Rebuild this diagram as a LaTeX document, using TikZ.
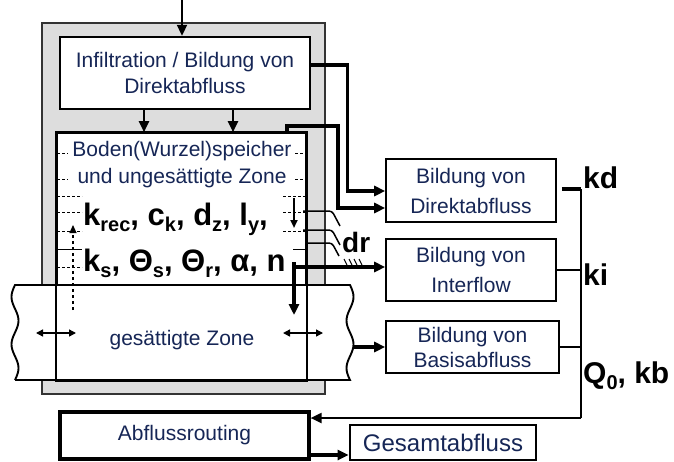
\documentclass[tikz,border=0pt]{standalone}
\usepackage{fontspec}
\setmainfont{Liberation Sans}
\usetikzlibrary{arrows.meta}

\definecolor{navy}{RGB}{22,38,86}
\definecolor{soilgray}{RGB}{221,221,221}

% lowered, smaller index text for the parameter names
\newcommand\lo[1]{\raisebox{-0.22em}{\fontsize{20}{20}\selectfont #1}}

\tikzset{
  box/.style={draw, line width=1.6pt, fill=white, inner sep=0pt, align=center,
              text=navy, font=\fontsize{21}{30}\selectfont},
  arr/.style={-{Triangle[length=11pt,width=10pt]}},
  arrsmall/.style={-{Triangle[length=8pt,width=7pt]}},
  both/.style={{Triangle[length=7pt,width=7pt]}-{Triangle[length=7pt,width=7pt]}},
  flow/.style={line width=3.2pt},
  lnk/.style={line width=2pt},
  tickmark/.style={line width=0.9pt, densely dashed},
  param/.style={anchor=base west, inner sep=0pt, font=\fontsize{31}{31}\selectfont\bfseries},
  coef/.style={anchor=base west, inner sep=0pt, font=\fontsize{30}{30}\selectfont\bfseries},
  bluetext/.style={text=navy, inner sep=0pt, align=center}
}

\begin{document}
\begin{tikzpicture}[x=1pt,y=-1pt]
\useasboundingbox (0,0) rectangle (674,461);

% grey soil column
\filldraw[fill=soilgray, draw=black!80, line width=1.3pt] (42,23) rectangle (325,394);

% infiltration box and unsaturated zone
\node[box, line width=2.4pt, minimum width=250pt, minimum height=72pt,
      font=\fontsize{21}{26}\selectfont] (infil) at (185,73)
      {Infiltration / Bildung von\\Direktabfluss};
\node[box, minimum width=249pt, minimum height=247pt] (zone) at (181.5,256.5) {};

% saturated zone band with wavy cut edges
\filldraw[fill=white, line width=1.9pt]
  (15,285) -- (350,285)
  -- plot[smooth, domain=0:95, samples=41] ({350+3.5*sin(\x*7.5789)},{285+\x})
  -- (15,380)
  -- plot[smooth, domain=95:0, samples=41] ({15-3.5*sin(\x*7.5789)},{285+\x})
  -- cycle;
\draw[line width=1.6pt] (zone.north west) rectangle (zone.south east);

% texts in the soil column
\node[bluetext, font=\fontsize{21}{27}\selectfont] (ztext) at (182,165)
  {Boden(Wurzel)speicher\\und ungesättigte Zone};
\node[param] (p1) at (83,225) {k\lo{rec}, c\lo{k}, d\lo{z}, l\lo{y},};
\node[param] (p2) at (83,271) {k\lo{s}, Θ\lo{s}, Θ\lo{r}, α, n};
\node[bluetext, font=\fontsize{21}{21}\selectfont] (stext) at (182,340) {gesättigte Zone};

% layer marks on both sides of the unsaturated zone
\foreach \y in {153,179} {
  \draw[tickmark] (57,\y) -- (68,\y);
  \draw[tickmark] (295,\y) -- (306,\y);
}
\foreach \y in {196,212,231,267} \draw[tickmark] (57,\y) -- (82,\y);
\draw[line width=0.9pt] (57,249) -- (82,249);
\foreach \y in {196,212,231} \draw[tickmark] (283,\y) -- (306,\y);
\draw[line width=0.9pt] (293,249) -- (306,249);

% drainage lines (dr)
\draw[line width=1.5pt, rounded corners=3pt] (303,211) -- (332,211) -- (340,226);
\draw[line width=1.5pt, rounded corners=3pt] (303,230) -- (332,230) -- (340,245);
\draw[line width=1.5pt, rounded corners=3pt] (305,243) -- (332,243) -- (339,256);
\foreach \x in {344,349,354,359} \draw[line width=1pt] (\x,259) -- (\x+3,265);
\node[coef, font=\fontsize{28}{28}\selectfont\bfseries] (dr) at (342,252) {dr};

% runoff formation boxes
\node[box, minimum width=170pt, minimum height=63pt] (dir) at (471,190.5) {Bildung von\\Direktabfluss};
\node[box, minimum width=170pt, minimum height=62pt] (inter) at (471,270) {Bildung von\\Interflow};
\node[box, minimum width=173pt, minimum height=52pt, font=\fontsize{21}{25}\selectfont]
  (basis) at (472.5,347) {Bildung von\\Basisabfluss};

% routing and total runoff
\node[box, line width=3.2pt, minimum width=249pt, minimum height=47pt] (routing) at (184.5,435.5) {Abflussrouting};
\node[box, line width=2.8pt, minimum width=186pt, minimum height=35pt,
      font=\fontsize{24}{24}\selectfont] (total) at (443,442.5) {Gesamtabfluss};

% precipitation input
\coordinate (rain) at (182,0);
\draw[lnk, arr] (rain) -- (rain |- infil.north);

% infiltration into the soil store
\coordinate (s1) at ([xshift=-41pt]infil.south);
\coordinate (s2) at ([xshift=48pt]infil.south);
\draw[lnk, arr] (s1) -- (s1 |- zone.north);
\draw[lnk, arr] (s2) -- (s2 |- zone.north);

% direct runoff paths
\draw[flow, arr] ([yshift=8pt]infil.east) -- ++(36,0) |- ([yshift=-0.5pt]dir.west);
\coordinate (z1) at ([xshift=105.5pt]zone.north);
\draw[flow, arr] (z1) |- (338,126) |- ([yshift=-17.5pt]dir.west);

% interflow and percolation
\coordinate (ifs) at (294,267);
\draw[flow, arr] (ifs) -- (ifs -| inter.west);
\coordinate (perc) at (294,262);
\coordinate (percEnd) at (294,315);
\draw[flow, arr] (perc) -- (percEnd);
\coordinate (dzTop) at (294,198);
\coordinate (dzEnd) at (294,228);
\draw[lnk, arrsmall] (dzTop) -- (dzEnd);
\coordinate (capLow) at (73,310);
\coordinate (capTop) at (73,225);
\draw[line width=1.2pt, dashed, arrsmall] (capLow) -- (capTop);

% lateral exchange in the saturated zone
\coordinate (la) at (36,333);
\coordinate (lb) at (76,333);
\coordinate (ra) at (283,333);
\coordinate (rb) at (323,333);
\draw[line width=1.4pt, both] (la) -- (lb);
\draw[line width=1.4pt, both] (ra) -- (rb);

% baseflow
\coordinate (bq) at (353,347);
\draw[flow, arr] (bq) -- (bq -| basis.west);

% collecting line to routing
\coordinate (cTop) at (581,189);
\coordinate (cBot) at (581,418);
\draw[line width=3.4pt] ([xshift=5pt,yshift=1.5pt]dir.east) -- (cTop);
\draw[lnk] (cTop) -- (cBot);
\draw[lnk] (inter.east) -- (inter.east -| cTop);
\draw[lnk] (basis.east) -- (basis.east -| cTop);
\draw[lnk, arr] (cBot) -- (cBot -| routing.east);
\draw[flow, arr] ([yshift=-19.5pt]routing.east) -- ([yshift=-19.5pt]routing.east -| total.west);

% storage coefficients
\node[coef] (kd) at (583,188) {kd};
\node[coef] (ki) at (583,285) {ki};
\node[coef] (q0) at (583,383) {Q\lo{0}, kb};
\end{tikzpicture}
\end{document}
